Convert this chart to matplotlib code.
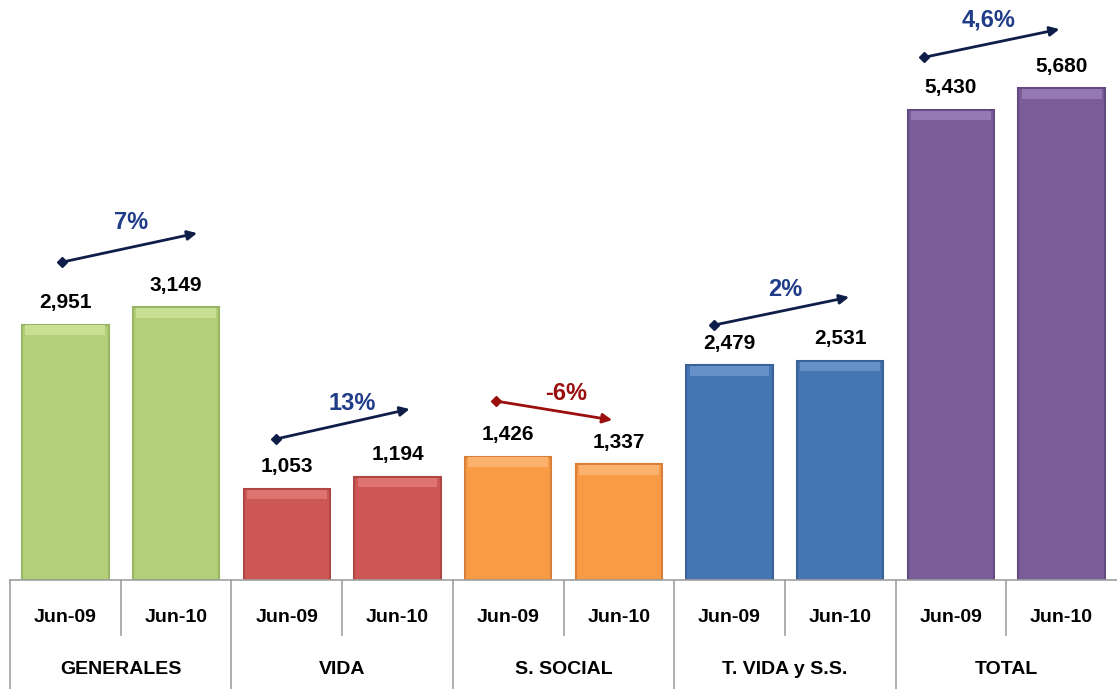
import matplotlib.pyplot as plt
import matplotlib.transforms as mtransforms
import numpy as np

plt.rcParams['font.family'] = ['Liberation Sans', 'DejaVu Sans']

# datos
grupos = ['GENERALES', 'VIDA', 'S. SOCIAL', 'T. VIDA y S.S.', 'TOTAL']
periodos = ['Jun-09', 'Jun-10']
valores = [2951, 3149, 1053, 1194, 1426, 1337, 2479, 2531, 5430, 5680]
variaciones = ['7%', '13%', '-6%', '2%', '4,6%']
colores = ['#B3CF78', '#CD5755', '#F99B45', '#4675B3', '#7A5C98']
bordes = ['#98B663', '#AE4644', '#D8803A', '#3A6298', '#634A80']
claros = ['#C9E094', '#DD7472', '#FBB26E', '#6590C8', '#9479B2']

# flechas: (x0, y0, x1, y1, xt, yt)
flechas = [(-0.03, 3672, 1.19, 4007, 0.59, 4134),
           (1.90, 1628, 3.11, 1975, 2.59, 2044),
           (3.89, 2067, 4.94, 1848, 4.52, 2159),
           (5.86, 2945, 7.08, 3268, 6.50, 3360),
           (7.76, 6039, 8.98, 6363, 8.34, 6467)]

fig = plt.figure(figsize=(11.17, 6.89), dpi=100)
ax = fig.add_axes([10 / 1117, 109 / 689, 1 - 10 / 1117, 580 / 689])

x = np.arange(len(valores))
ancho = 0.78
for i, v in enumerate(valores):
    g = i // 2
    ax.bar(x[i], v, width=ancho, color=colores[g], edgecolor=bordes[g], linewidth=1.5, zorder=2)
    ax.bar(x[i], 110, bottom=v - 120, width=ancho - 0.06, color=claros[g], linewidth=0, zorder=3)
    ax.annotate(f'{v:,}', (x[i], v), xytext=(0, 9), textcoords='offset points',
                ha='center', va='bottom', fontsize=15, fontweight='bold', color='black')

for g, (x0, y0, x1, y1, xt, yt) in enumerate(flechas):
    c = '#9B0E0E' if variaciones[g].startswith('-') else '#0F1E48'
    ct = '#9B0E0E' if variaciones[g].startswith('-') else '#1F3C88'
    ax.annotate('', xy=(x1, y1), xytext=(x0, y0),
                arrowprops=dict(arrowstyle='-|>', color=c, lw=2, mutation_scale=14,
                                shrinkA=0, shrinkB=0))
    ax.plot(x0, y0, marker='D', color=c, markersize=5)
    ax.text(xt, yt, variaciones[g], ha='center', va='center', fontsize=17,
            fontweight='bold', color=ct)

ax.set_xlim(-0.5, 9.5)
ax.set_ylim(0, 6700)
ax.axis('off')

# tabla de categorías
trans = mtransforms.blended_transform_factory(ax.transData, ax.transAxes)
gris = '#A0A0A0'
ax.plot([-0.5, 9.5], [0, 0], color=gris, lw=1.2, transform=trans, clip_on=False)
for b in [-0.5, 1.5, 3.5, 5.5, 7.5]:
    ax.plot([b, b], [0, -109 / 580], color=gris, lw=1.2, transform=trans, clip_on=False)
for b in [0.5, 2.5, 4.5, 6.5, 8.5]:
    ax.plot([b, b], [0, -55 / 580], color=gris, lw=1.2, transform=trans, clip_on=False)
for i in x:
    ax.text(i, -37 / 580, periodos[i % 2], ha='center', va='center', fontsize=14,
            fontweight='bold', transform=trans)
for g, nombre in enumerate(grupos):
    ax.text(2 * g + 0.5, -89 / 580, nombre, ha='center', va='center', fontsize=14,
            fontweight='bold', transform=trans)

plt.savefig('out.png', dpi=100)
